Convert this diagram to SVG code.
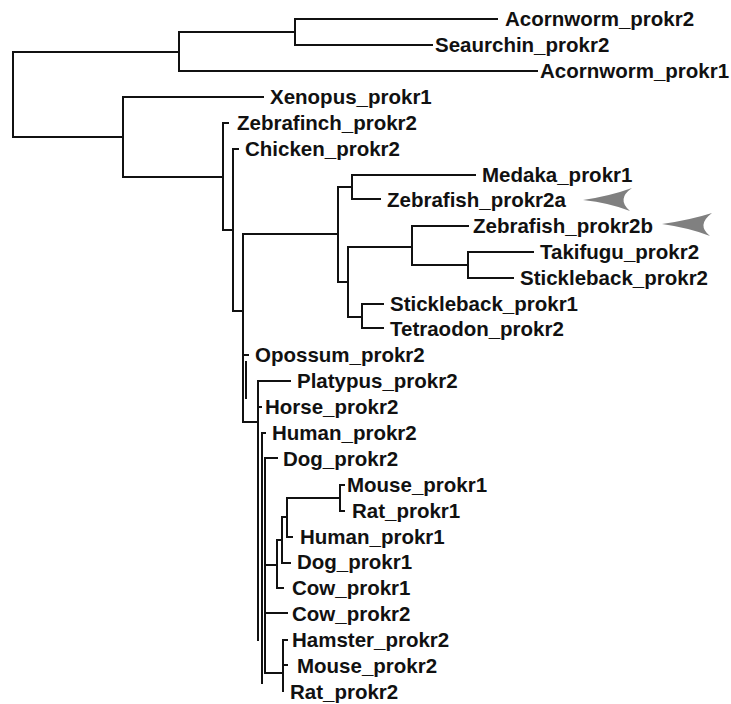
<svg xmlns="http://www.w3.org/2000/svg" width="731" height="704" viewBox="0 0 731 704">
<style>
.br{fill:none;stroke:#111;stroke-width:2;stroke-linecap:square;stroke-linejoin:miter}
.lb{font-family:"Liberation Sans",Arial,sans-serif;font-weight:bold;font-size:20.5px;fill:#111}
.ar{fill:#808080;stroke:none}
</style>
<rect width="731" height="704" fill="#fff"/>
<g id="connectors">
<path class="br" d="M179,52 H13 V137 H123"/>
<path class="br" d="M295,32 H179 V71 H537"/>
<path class="br" d="M497,19 H295 V45 H432"/>
<path class="br" d="M263,97 H123 V177 H223"/>
<path class="br" d="M228,123 H223 V230 H233"/>
<path class="br" d="M238,149 H233 V311 H243"/>
<path class="br" d="M338,234 H243 V422 H258"/>
<path class="br" d="M352,187 H338 V282 H348"/>
<path class="br" d="M475,175 H352 V199 H380"/>
<path class="br" d="M412,247 H348 V317 H362"/>
<path class="br" d="M468,226 H412 V265 H468"/>
<path class="br" d="M533,252 H468 V278 H513"/>
<path class="br" d="M383,304 H362 V328 H383"/>
<path class="br" d="M243,355 H248"/>
<path class="br" d="M246,362 V398"/>
<path class="br" d="M290,381 H258 V640"/>
<path class="br" d="M258,407 H261"/>
<path class="br" d="M265,433 H262 V683"/>
<path class="br" d="M277,458 H265 V673 H283"/>
<path class="br" d="M265,565 H277"/>
<path class="br" d="M283,588 H277 V540 H282"/>
<path class="br" d="M290,563 H282 V517 H287"/>
<path class="br" d="M292,537 H287 V498 H340"/>
<path class="br" d="M344,485 H340 V511 H344"/>
<path class="br" d="M287,613 H265"/>
<path class="br" d="M287,640 H283 V691"/>
<path class="br" d="M283,665 H287"/>
</g>
<g id="n-acornworm-prokr2"><text class="lb" x="505" y="26">Acornworm_prokr2</text></g>
<g id="n-seaurchin-prokr2"><text class="lb" x="435" y="52">Seaurchin_prokr2</text></g>
<g id="n-acornworm-prokr1"><text class="lb" x="540" y="78">Acornworm_prokr1</text></g>
<g id="n-xenopus-prokr1"><text class="lb" x="270" y="104">Xenopus_prokr1</text></g>
<g id="n-zebrafinch-prokr2"><text class="lb" x="237" y="130">Zebrafinch_prokr2</text></g>
<g id="n-chicken-prokr2"><text class="lb" x="245" y="156">Chicken_prokr2</text></g>
<g id="n-medaka-prokr1"><text class="lb" x="482" y="182">Medaka_prokr1</text></g>
<g id="n-zebrafish-prokr2a"><text class="lb" x="387" y="207">Zebrafish_prokr2a</text></g>
<g id="n-zebrafish-prokr2b"><text class="lb" x="473" y="233">Zebrafish_prokr2b</text></g>
<g id="n-takifugu-prokr2"><text class="lb" x="540" y="259">Takifugu_prokr2</text></g>
<g id="n-stickleback-prokr2"><text class="lb" x="520" y="285">Stickleback_prokr2</text></g>
<g id="n-stickleback-prokr1"><text class="lb" x="390" y="311">Stickleback_prokr1</text></g>
<g id="n-tetraodon-prokr2"><text class="lb" x="390" y="336">Tetraodon_prokr2</text></g>
<g id="n-opossum-prokr2"><text class="lb" x="255" y="362">Opossum_prokr2</text></g>
<g id="n-platypus-prokr2"><text class="lb" x="297" y="388">Platypus_prokr2</text></g>
<g id="n-horse-prokr2"><text class="lb" x="265" y="414">Horse_prokr2</text></g>
<g id="n-human-prokr2"><text class="lb" x="272" y="440">Human_prokr2</text></g>
<g id="n-dog-prokr2"><text class="lb" x="283" y="466">Dog_prokr2</text></g>
<g id="n-mouse-prokr1"><text class="lb" x="347" y="492">Mouse_prokr1</text></g>
<g id="n-rat-prokr1"><text class="lb" x="352" y="518">Rat_prokr1</text></g>
<g id="n-human-prokr1"><text class="lb" x="300" y="544">Human_prokr1</text></g>
<g id="n-dog-prokr1"><text class="lb" x="297" y="569">Dog_prokr1</text></g>
<g id="n-cow-prokr1"><text class="lb" x="292" y="595">Cow_prokr1</text></g>
<g id="n-cow-prokr2"><text class="lb" x="292" y="621">Cow_prokr2</text></g>
<g id="n-hamster-prokr2"><text class="lb" x="292" y="647">Hamster_prokr2</text></g>
<g id="n-mouse-prokr2"><text class="lb" x="297" y="673">Mouse_prokr2</text></g>
<g id="n-rat-prokr2"><text class="lb" x="290" y="699">Rat_prokr2</text></g>
<g id="arrow-a"><path class="ar" d="M583,200 Q610,196 632,188 Q616,199 630,211 Q610,203 583,200 Z"/></g>
<g id="arrow-b"><path class="ar" d="M662,224 Q690,220 712,213 Q696,225 710,236 Q690,228 662,224 Z"/></g>
</svg>
